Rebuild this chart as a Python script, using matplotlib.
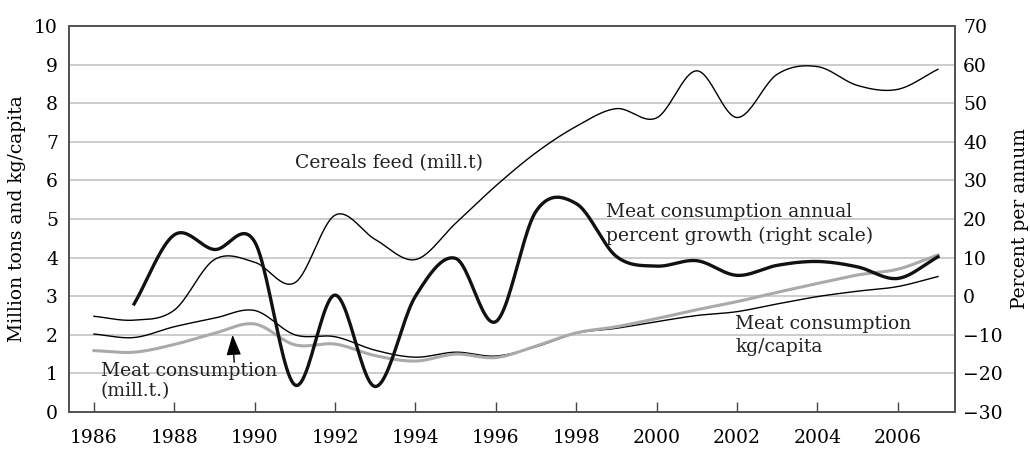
import numpy as np
import matplotlib
matplotlib.use('Agg')
import matplotlib.pyplot as plt

plt.rcParams['font.family'] = ['DejaVu Serif']

years = list(range(1986, 2008))

# left scale, million tons
cereals_feed = [2.48, 2.38, 2.64, 3.95, 3.88, 3.35, 5.1, 4.47, 3.95, 4.89, 5.86,
                6.72, 7.4, 7.86, 7.62, 8.84, 7.63, 8.75, 8.95, 8.46, 8.36, 8.88]
meat_mill_t = [1.59, 1.55, 1.75, 2.04, 2.28, 1.74, 1.76, 1.46, 1.32, 1.5, 1.41,
               1.71, 2.05, 2.21, 2.42, 2.65, 2.86, 3.1, 3.33, 3.55, 3.7, 4.07]
# left scale, kg/capita
meat_kg_capita = [2.02, 1.93, 2.21, 2.43, 2.63, 2.0, 1.95, 1.6, 1.42, 1.55, 1.45,
                  1.69, 2.04, 2.17, 2.34, 2.5, 2.6, 2.8, 2.99, 3.13, 3.25, 3.51]
# right scale, percent per annum (starts 1987)
growth_years = list(range(1987, 2008))
meat_growth = [-2.0, 15.9, 12.1, 14.1, -23.0, 0.3, -23.4, 0.0, 9.8, -6.6,
               22.0, 24.0, 10.3, 7.8, 9.2, 5.4, 8.0, 9.0, 7.6, 4.6, 10.2]

year_ticks = list(range(1986, 2008, 2))


def smooth(x, y, n=24):
    # Catmull-Rom curve through the yearly points
    x = np.asarray(x, float)
    y = np.asarray(y, float)
    m = np.gradient(y, x)
    xs, ys = [], []
    for i in range(len(x) - 1):
        t = np.linspace(0, 1, n, endpoint=False)
        h = x[i + 1] - x[i]
        h00 = 2 * t**3 - 3 * t**2 + 1
        h10 = t**3 - 2 * t**2 + t
        h01 = -2 * t**3 + 3 * t**2
        h11 = t**3 - t**2
        xs.append(x[i] + t * h)
        ys.append(h00 * y[i] + h10 * h * m[i] + h01 * y[i + 1] + h11 * h * m[i + 1])
    xs.append([x[-1]])
    ys.append([y[-1]])
    return np.concatenate(xs), np.concatenate(ys)


fig = plt.figure(figsize=(10.3, 4.49), dpi=100)
ax = fig.add_axes([0.067, 0.0824, 0.86, 0.8596])
ax2 = ax.twinx()

ax.set_xlim(1985.38, 2007.42)
ax.set_ylim(0, 10)
ax2.set_ylim(-30, 70)

for v in range(1, 10):
    ax.axhline(v, color='#c8c8c8', lw=1.3, zorder=0)

ax.plot(*smooth(years, cereals_feed), color='black', lw=1.0)
ax.plot(*smooth(years, meat_kg_capita), color='black', lw=1.0)
ax.plot(*smooth(years, meat_mill_t), color='#aaaaaa', lw=2.2)
ax2.plot(*smooth(growth_years, meat_growth), color='#111111', lw=2.4)

fs = 13.5
ax.set_xticks(year_ticks)
ax.set_xticklabels([str(y) for y in year_ticks])
ax.set_yticks(range(0, 11))
ax2.set_yticks(range(-30, 71, 10))
ax.tick_params(axis='x', direction='in', length=7, width=1, color='#444444',
               labelsize=fs, pad=12)
ax.tick_params(axis='y', length=0, labelsize=fs, pad=8)
ax2.tick_params(axis='y', length=0, labelsize=fs, pad=6)

for a in (ax, ax2):
    for s in a.spines.values():
        s.set_color('#555555')
        s.set_linewidth(1.4)

ax.set_ylabel('Million tons and kg/capita', fontsize=fs, labelpad=6)
ax2.set_ylabel('Percent per annum', fontsize=fs, labelpad=6)

ax.text(1991.0, 6.45, 'Cereals feed (mill.t)', fontsize=fs, va='center', color='#222222')
ax.text(1998.75, 4.86, 'Meat consumption annual\npercent growth (right scale)',
        fontsize=fs, va='center', color='#222222', linespacing=1.4)
ax.text(2001.96, 1.99, 'Meat consumption\nkg/capita', fontsize=fs, va='center',
        color='#222222', linespacing=1.35)
ax.text(1986.17, 0.8, 'Meat consumption\n(mill.t.)', fontsize=fs, va='center',
        color='#222222', linespacing=1.12)
ax.annotate('', xy=(1989.45, 2.0), xytext=(1989.49, 1.29),
            arrowprops=dict(arrowstyle='-|>,head_width=0.45,head_length=1.25',
                            color='black', lw=1.0, shrinkA=0, shrinkB=0,
                            mutation_scale=10))

fig.savefig('out.png', dpi=100)
